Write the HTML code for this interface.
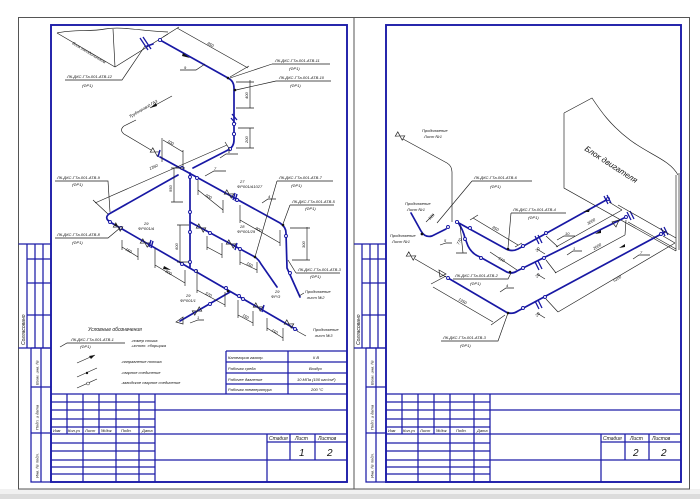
<!DOCTYPE html>
<html><head><meta charset="utf-8"><style>
html,body{margin:0;padding:0;background:#fff;width:700px;height:499px;overflow:hidden}
svg{display:block}
text{font-family:"Liberation Sans","DejaVu Sans",sans-serif;font-style:italic;fill:#111}
.f{fill:none;stroke:#1c1ca8;stroke-width:1.9}
.g{fill:none;stroke:#1c1ca8;stroke-width:1.25}
.o{fill:none;stroke:#555;stroke-width:1}
.b{fill:none;stroke:#1818a4;stroke-width:1.7;stroke-linecap:round}
.t{fill:none;stroke:#1a1a1a;stroke-width:0.65}
.c{fill:#fff;stroke:#1818a4;stroke-width:0.9}
.d{fill:#111}
.s4{font-size:4px}
.s5{font-size:5px}
.s6{font-size:6px}
</style></head><body>
<svg width="700" height="499" viewBox="0 0 700 499" xmlns="http://www.w3.org/2000/svg">
<rect width="700" height="499" fill="#fff"/>
<rect x="0" y="489" width="700" height="10" fill="#f1f1f1"/>
<rect x="0" y="494" width="700" height="5" fill="#dcdcdc"/>

<path class="o" d="M18.5,17.5 H689.5 V489 H18.5 Z M354,17.5 V489"/>

<!-- ================= LEFT SHEET ================= -->
<rect class="f" x="51" y="25" width="296" height="457"/>
<path class="g" d="M31,348 H51 M31,348 V482 H51 M41,348 V482 M31,387 H51 M31,433 H51"/>
<path class="g" d="M18.5,244 H51 M18.5,348 H51 M27,244 V348 M35,244 V348 M43,244 V348 M27,259 H51 M27,283 H51 M27,315 H51"/>
<text class="s5" transform="translate(25,345) rotate(-90)">Согласовано</text>
<text class="s4" transform="translate(38.5,385) rotate(-90)">Взам. инв. №</text>
<text class="s4" transform="translate(38.5,430) rotate(-90)">Подп. и дата</text>
<text class="s4" transform="translate(38.5,478) rotate(-90)">Инв. № подл.</text>
<path class="g" d="M51,394 H347 M51,402 H155 M51,410 H347 M51,419 H155 M51,427 H155 M51,434 H347 M51,443 H155 M51,451 H155 M51,460 H347 M51,467 H155 M51,474 H155
M67,394 V434 M83,394 V482 M99,394 V434 M116,394 V482 M139,394 V482 M155,394 V482
M267,434 V482 M267,442 H347 M290,434 V460 M315,434 V460"/>
<text class="s4" x="53" y="432">Изм</text><text class="s4" x="68" y="432">Кол.уч</text><text class="s4" x="85" y="432">Лист</text><text class="s4" x="101" y="432">№док</text><text class="s4" x="121" y="432">Подп.</text><text class="s4" x="142" y="432">Дата</text>
<text class="s5" x="269" y="440">Стадия</text><text class="s5" x="295" y="440">Лист</text><text class="s5" x="318" y="440">Листов</text>
<text x="299" y="456" style="font-size:10px">1</text><text x="327" y="456" style="font-size:10px">2</text>
<path class="g" d="M226,351 H347 M226,351 V394 M226,362 H347 M226,373 H347 M226,384 H347 M288,351 V394"/>
<text class="s4" x="228" y="359">Категория газопр.</text><text class="s4" x="313" y="359">II B</text>
<text class="s4" x="228" y="370">Рабочая среда</text><text class="s4" x="309" y="370">Воздух</text>
<text class="s4" x="228" y="381">Рабочее давление</text><text class="s4" x="297" y="381">10 МПа (100 кгс/см²)</text>
<text class="s4" x="228" y="391">Рабочая температура</text><text class="s4" x="311" y="391">200 °С</text>

<text class="s5" x="88" y="331">Условные обозначения</text>
<path class="t" d="M60,347 L67,343 H125"/>
<text class="s4" x="71" y="341">ЛК-ДКС-ГТа-001-АТВ-1</text><text class="s4" x="80" y="348">(ФР1)</text>
<text class="s4" x="131" y="342">-номер стыка</text><text class="s4" x="131" y="347">-исполн. сборщика</text>
<path class="t" d="M77,363 L95,355 M77,377 L97,368 M77,388 L97,379"/>
<path class="d" d="M95,355 L89,356 L91,359 Z"/>
<circle class="d" cx="87" cy="373" r="1.2"/>
<circle cx="88" cy="383.5" r="1.5" fill="#fff" stroke="#222" stroke-width="0.5"/>
<text class="s4" x="121" y="363">-направление потока</text>
<text class="s4" x="121" y="374">-сварное соединение</text>
<text class="s4" x="121" y="384">-заводское сварное соединение</text>

<path class="t" d="M57,33 C75,29 90,32 105,29 C122,26 140,31 168,32 M57,33 L115,67 M113,29 L115,67 M115,67 L168,34" stroke-width="0.7"/>
<text class="s4" transform="translate(72,44) rotate(31)">Блок холодильников</text>

<path class="b" d="M160,40 L228,78 Q234,81 234,88 L234,140 Q234,147 228,150 L193,168"/>
<path class="b" d="M160,157 L280,223 Q286,227 286,233 L287,268 L300,297"/>
<path class="b" d="M190,173 L190,267"/>
<path class="b" d="M178,175 L109,214 Q104,218 110,222 L297,330"/>
<path class="b" d="M190,222 L255,257 Q259,260 261,264 L277,287"/>
<path class="b" d="M230,292 L180,321"/>
<path class="b" d="M153,44 L147,46" />
<path d="M140,38 L148,50 M143,37 L151,49 M232,114 L237,120 M231,118 L236,124" stroke="#1818a4" stroke-width="1.3" fill="none"/>
<g class="c">
<circle cx="160" cy="40" r="1.6"/><circle cx="234" cy="124" r="1.6"/><circle cx="234" cy="134" r="1.6"/><circle cx="230" cy="149" r="1.6"/>
<circle cx="182" cy="168" r="1.5"/><circle cx="190" cy="177" r="1.5"/><circle cx="197" cy="178" r="1.5"/><circle cx="190" cy="212" r="1.5"/>
<circle cx="190" cy="232" r="1.5"/><circle cx="190" cy="262" r="1.5"/><circle cx="210" cy="233" r="1.5"/><circle cx="240" cy="249" r="1.5"/>
<circle cx="237" cy="200" r="1.5"/><circle cx="110" cy="222" r="1.5"/><circle cx="121" cy="228" r="1.5"/><circle cx="182" cy="264" r="1.5"/>
<circle cx="196" cy="271" r="1.5"/><circle cx="226" cy="288" r="1.5"/><circle cx="239" cy="296" r="1.5"/><circle cx="290" cy="273" r="1.5"/>
<circle cx="243" cy="299" r="1.5"/><circle cx="295" cy="329" r="1.5"/><circle cx="210" cy="304" r="1.5"/><circle cx="286" cy="236" r="1.5"/>
</g>
<g class="d"><circle cx="228" cy="78" r="1.3"/><circle cx="235" cy="90" r="1.3"/><circle cx="283" cy="225" r="1.3"/><circle cx="255" cy="257" r="1.3"/><circle cx="228" cy="291" r="1.3"/><circle cx="116" cy="225" r="1.1"/></g>
<path class="d" d="M190,58 L183,53 L182,56 Z M171,270 L164,266 L163,269 Z"/>
<g stroke="#222" stroke-width="0.7" fill="none">
<g transform="translate(155,152) rotate(30)"><path d="M-4,-2.5 L4,2.5 V-2.5 L-4,2.5 Z"/></g>
<g transform="translate(229,194) rotate(30)"><path d="M-4,-2.5 L4,2.5 V-2.5 L-4,2.5 Z"/></g>
<g transform="translate(201,228) rotate(30)"><path d="M-4,-2.5 L4,2.5 V-2.5 L-4,2.5 Z"/></g>
<g transform="translate(231,244) rotate(30)"><path d="M-4,-2.5 L4,2.5 V-2.5 L-4,2.5 Z"/></g>
<g transform="translate(118,227) rotate(30)"><path d="M-4,-2.5 L4,2.5 V-2.5 L-4,2.5 Z"/></g>
<g transform="translate(145,243) rotate(30)"><path d="M-4,-2.5 L4,2.5 V-2.5 L-4,2.5 Z"/></g>
<g transform="translate(258,307) rotate(30)"><path d="M-4,-2.5 L4,2.5 V-2.5 L-4,2.5 Z"/></g>
<g transform="translate(197,311) rotate(-30)"><path d="M-4,-2.5 L4,2.5 V-2.5 L-4,2.5 Z"/></g>
<g transform="translate(289,324) rotate(30)"><path d="M-4,-2.5 L4,2.5 V-2.5 L-4,2.5 Z"/></g>
<path d="M176,322 L183,317 L183,324 Z"/>
</g>
<path d="M235,193 L233,200 M237,194 L235,201 M151,240 L149,247 M153,241 L151,248 M237,243 L235,250 M264,305 L262,312 M160,150 L158,157" stroke="#1818a4" stroke-width="1.4"/>
<path class="t" d="M151,150 L124,134 Q119,130 124,126 L136,120"/>
<text class="s4" transform="translate(130,118) rotate(-30)">Трубопровод ГАЗ</text>
<path class="t" d="M150,108 L172,96"/><path class="d" d="M150,108 L156,103 L157,106 Z"/>
<g class="t">
<path d="M177,28 L248,68 M163,37 L179,27 M230,77 L249,66"/>
<path d="M250,80 V108 M236,82 H254 M236,108 H254 M250,128 V148 M238,128 H254 M236,148 H254"/>
<path d="M95,203 L227,145 M93,200 L108,214 M225,142 L230,150"/>
<path d="M163,140 L183,152 M162,138 V162 M183,150 V167"/>
<path d="M174,168 V202 M171,168 H185 M171,202 H183"/>
<path d="M198,190 L223,210 M198,180 V195 M223,200 V213"/>
<path d="M180,225 V262 M177,225 H189 M177,262 H189"/>
<path d="M122,247 L138,257 M122,240 V250 M138,248 V260"/>
<path d="M155,265 L185,283 M155,248 V268 M185,270 V286"/>
<path d="M197,290 L225,305 M197,270 V293 M225,292 V307"/>
<path d="M207,247 L222,255 M207,236 V250 M222,243 V258"/>
<path d="M240,262 L257,270 M240,250 V265 M257,262 V273"/>
<path d="M240,220 L280,243 M240,205 V223 M280,230 V246"/>
<path d="M238,315 L253,323 M238,300 V318 M253,311 V326"/>
<path d="M267,328 L283,338 M267,318 V331 M283,328 V341"/>
<path d="M307,227 V260 M290,228 H310 M292,260 H310"/>
<path d="M180,70 H196 L205,64 M205,176 L214,171 H226 M262,203 L268,199 H276 M220,158 L226,154 H238 M190,323 L198,320 H204"/>
</g>
<g class="s4">
<text transform="translate(207,44) rotate(30)">850</text>
<text transform="translate(248,99) rotate(-90)">400</text>
<text transform="translate(248,143) rotate(-90)">200</text>
<text transform="translate(150,170) rotate(-24)">1350</text>
<text transform="translate(167,142) rotate(30)">100</text>
<text transform="translate(172,192) rotate(-90)">550</text>
<text transform="translate(205,196) rotate(30)">600</text>
<text transform="translate(178,250) rotate(-90)">600</text>
<text transform="translate(125,250) rotate(30)">150</text>
<text transform="translate(165,272) rotate(30)">800</text>
<text transform="translate(205,294) rotate(30)">570</text>
<text transform="translate(246,264) rotate(30)">150</text>
<text transform="translate(255,229) rotate(30)">800</text>
<text transform="translate(242,316) rotate(30)">150</text>
<text transform="translate(271,331) rotate(30)">150</text>
<text transform="translate(305,248) rotate(-90)">300</text>
<text x="184" y="69">9</text><text x="214" y="170">7</text><text x="268" y="198">4</text><text x="228" y="153">8</text><text x="197" y="319">1</text>
<text x="240" y="183">27</text><text x="237" y="188">ФР001/А1027</text>
<text x="240" y="228">28</text><text x="237" y="233">ФР001/29</text>
<text x="144" y="225">29</text><text x="138" y="230">ФР001/А</text>
<text x="186" y="297">29</text><text x="180" y="302">ФР001/1</text>
<text x="275" y="293">29</text><text x="271" y="298">ФР/3</text>
</g>
<g class="t">
<path d="M272,64 H330 M272,64 L230,78 M276,81 H331 M276,81 L236,90 M65,80 H122 L145,46
M55,181 H108 L110,212 M55,238 H108 L120,228 M277,181 H333 M277,181 L255,257 M290,205 H334 M290,205 L283,224 M296,273 H340 M296,273 L288,260
M299,296 L304,293 M297,331 L306,336"/>
</g>
<g class="s4">
<text x="275" y="62">ЛК-ДКС-ГТа-001-АТВ-11</text><text x="289" y="70">(ФР1)</text>
<text x="279" y="79">ЛК-ДКС-ГТа-001-АТВ-10</text><text x="290" y="87">(ФР1)</text>
<text x="67" y="78">ЛК-ДКС-ГТа-001-АТВ-12</text><text x="82" y="87">(ФР1)</text>
<text x="57" y="179">ЛК-ДКС-ГТа-001-АТВ-9</text><text x="72" y="186">(ФР1)</text>
<text x="57" y="236">ЛК-ДКС-ГТа-001-АТВ-8</text><text x="72" y="244">(ФР1)</text>
<text x="279" y="179">ЛК-ДКС-ГТа-001-АТВ-7</text><text x="291" y="187">(ФР1)</text>
<text x="292" y="203">ЛК-ДКС-ГТа-001-АТВ-5</text><text x="305" y="210">(ФР1)</text>
<text x="298" y="271">ЛК-ДКС-ГТа-001-АТВ-3</text><text x="310" y="278">(ФР1)</text>
<text x="305" y="293">Продолжение</text><text x="307" y="299">лист №2</text>
<text x="313" y="331">Продолжение</text><text x="315" y="337">лист №3</text>
</g>

<!-- ================= RIGHT SHEET ================= -->
<rect class="f" x="386" y="25" width="295" height="457"/>
<path class="g" d="M366,348 H386 M366,348 V482 H386 M376,348 V482 M366,387 H386 M366,433 H386"/>
<path class="g" d="M354,244 H386 M354,348 H386 M362,244 V348 M370,244 V348 M378,244 V348 M362,259 H386 M362,283 H386 M362,315 H386"/>
<text class="s5" transform="translate(360,345) rotate(-90)">Согласовано</text>
<text class="s4" transform="translate(373.5,385) rotate(-90)">Взам. инв. №</text>
<text class="s4" transform="translate(373.5,430) rotate(-90)">Подп. и дата</text>
<text class="s4" transform="translate(373.5,478) rotate(-90)">Инв. № подл.</text>
<path class="g" d="M386,394 H681 M386,402 H490 M386,410 H681 M386,419 H490 M386,427 H490 M386,434 H681 M386,443 H490 M386,451 H490 M386,460 H681 M386,467 H490 M386,474 H490
M402,394 V434 M418,394 V482 M434,394 V434 M450,394 V482 M474,394 V482 M490,394 V482
M601,434 V482 M601,442 H681 M625,434 V460 M649,434 V460"/>
<text class="s4" x="388" y="432">Изм</text><text class="s4" x="403" y="432">Кол.уч</text><text class="s4" x="420" y="432">Лист</text><text class="s4" x="436" y="432">№док</text><text class="s4" x="456" y="432">Подп.</text><text class="s4" x="477" y="432">Дата</text>
<text class="s5" x="603" y="440">Стадия</text><text class="s5" x="630" y="440">Лист</text><text class="s5" x="652" y="440">Листов</text>
<text x="633" y="456" style="font-size:10px">2</text><text x="661" y="456" style="font-size:10px">2</text>

<path class="t" stroke-width="0.7" d="M564,113 L592,98 C600,110 610,125 630,140 C650,155 670,160 678,175 M564,113 V188 L676,251 M676,175 V251 M679,173 V250"/>
<text transform="translate(584,150) rotate(33)" style="font-size:8px">Блок двигателя</text>

<path class="b" d="M411,213 L421,231 Q425,238 432,236 L446,229"/>
<path class="b" d="M457,222 L506,249 Q512,252 518,249 L608,199"/>
<path class="b" d="M459,224 Q463,230 465,238 L468,246 Q472,254 480,257 L505,271 Q511,275 517,271 L626,217"/>
<path class="b" d="M448,278 L506,312 Q512,315 518,311 L665,232"/>
<g class="c">
<circle cx="457" cy="222" r="1.6"/><circle cx="448" cy="227" r="1.5"/><circle cx="470" cy="228" r="1.5"/><circle cx="465" cy="239" r="1.5"/>
<circle cx="481" cy="258" r="1.5"/><circle cx="448" cy="278" r="1.5"/><circle cx="523" cy="246" r="1.5"/><circle cx="546" cy="233" r="1.5"/>
<circle cx="523" cy="268" r="1.5"/><circle cx="544" cy="258" r="1.5"/><circle cx="523" cy="308" r="1.5"/><circle cx="545" cy="297" r="1.5"/>
<circle cx="626" cy="217" r="1.5"/><circle cx="608" cy="199" r="1.5"/><circle cx="661" cy="234" r="1.5"/>
</g>
<g class="d"><circle cx="422" cy="234" r="1.4"/><circle cx="508" cy="249" r="1.3"/><circle cx="510" cy="272" r="1.3"/><circle cx="508" cy="313" r="1.3"/></g>
<path d="M535,236 L539,244 M538,235 L542,243 M535,262 L539,270 M538,261 L542,269 M535,301 L539,309 M538,300 L542,308 M604,196 L608,204 M607,195 L611,203 M661,228 L665,236 M664,227 L668,235 M627,212 L631,220 M630,211 L634,219" stroke="#1818a4" stroke-width="1.3"/>
<path class="d" d="M583,212 L590,209 L589,212 Z M595,234 L601,230 L601,233 Z M619,248 L625,244 L625,247 Z"/>
<g stroke="#222" stroke-width="0.7" fill="none">
<g transform="translate(400,136) rotate(30)"><path d="M-4,-2.5 L4,2.5 V-2.5 L-4,2.5 Z"/></g>
<g transform="translate(411,256) rotate(30)"><path d="M-4,-2.5 L4,2.5 V-2.5 L-4,2.5 Z"/></g>
<path d="M439,270 L446,274 L440,277 Z M612,222 L619,220 L616,227 Z"/>
</g>
<g class="t">
<path d="M403,139 L447,163 Q452,166 452,172 L452,222"/>
<path d="M415,259 L446,277"/>
<path d="M433,287 L493,322 M431,284 L446,276 M491,325 L505,315"/>
<path d="M473,218 L518,245 M470,220 L478,215 M515,247 L522,243"/>
<path d="M460,225 L463,253 M456,253 H467"/>
<path d="M490,252 L517,270"/>
<path d="M426,222 L434,214"/>
<path d="M556,247 L622,210 M555,273 L625,235 M558,312 L675,243"/>
<path d="M546,236 L558,247 M609,202 L622,210 M546,260 L556,273 M626,220 L625,235 M546,299 L558,312 M663,236 L675,243"/>
<path d="M537,249 L545,254 M537,274 L545,279 M537,313 L545,318"/>
<path d="M618,205 L676,238 M628,222 L676,249"/>
<path d="M472,181 H532 M472,181 L437,223 M511,213 H566 M511,213 L508,248 M453,279 H508 L511,273 M441,341 H498 L508,313"/>
<path d="M557,240 L564,236 H575 M567,255 L573,251 H582 M633,259 L639,255 H650 M500,292 L506,288 H514 M440,245 L446,243 H452"/>
</g>
<g class="s4">
<text transform="translate(458,300) rotate(30)">1350</text>
<text transform="translate(492,228) rotate(30)">850</text>
<text transform="translate(459,245) rotate(-65)">770</text>
<text transform="translate(498,259) rotate(30)">510</text>
<text transform="translate(430,220) rotate(-45)">525</text>
<text transform="translate(588,225) rotate(-30)">3000</text>
<text transform="translate(594,250) rotate(-30)">2600</text>
<text transform="translate(614,282) rotate(-30)">5100</text>
<text transform="translate(537,252) rotate(-45)">20</text>
<text transform="translate(537,278) rotate(-45)">20</text>
<text transform="translate(537,317) rotate(-45)">20</text>
<text x="565" y="235">10</text><text x="573" y="250">1</text><text x="640" y="254">7</text><text x="506" y="287">4</text><text x="444" y="242">5</text>
<text x="422" y="132">Продолжение</text><text x="424" y="138">Лист №1</text>
<text x="405" y="205">Продолжение</text><text x="407" y="211">Лист №1</text>
<text x="390" y="237">Продолжение</text><text x="392" y="243">Лист №1</text>
<text x="474" y="179">ЛК-ДКС-ГТа-001-АТВ-6</text><text x="490" y="188">(ФР1)</text>
<text x="513" y="211">ЛК-ДКС-ГТа-001-АТВ-4</text><text x="528" y="219">(ФР1)</text>
<text x="455" y="277">ЛК-ДКС-ГТа-001-АТВ-2</text><text x="470" y="285">(ФР1)</text>
<text x="443" y="339">ЛК-ДКС-ГТа-001-АТВ-3</text><text x="460" y="347">(ФР1)</text>
</g>
</svg>
</body></html>
